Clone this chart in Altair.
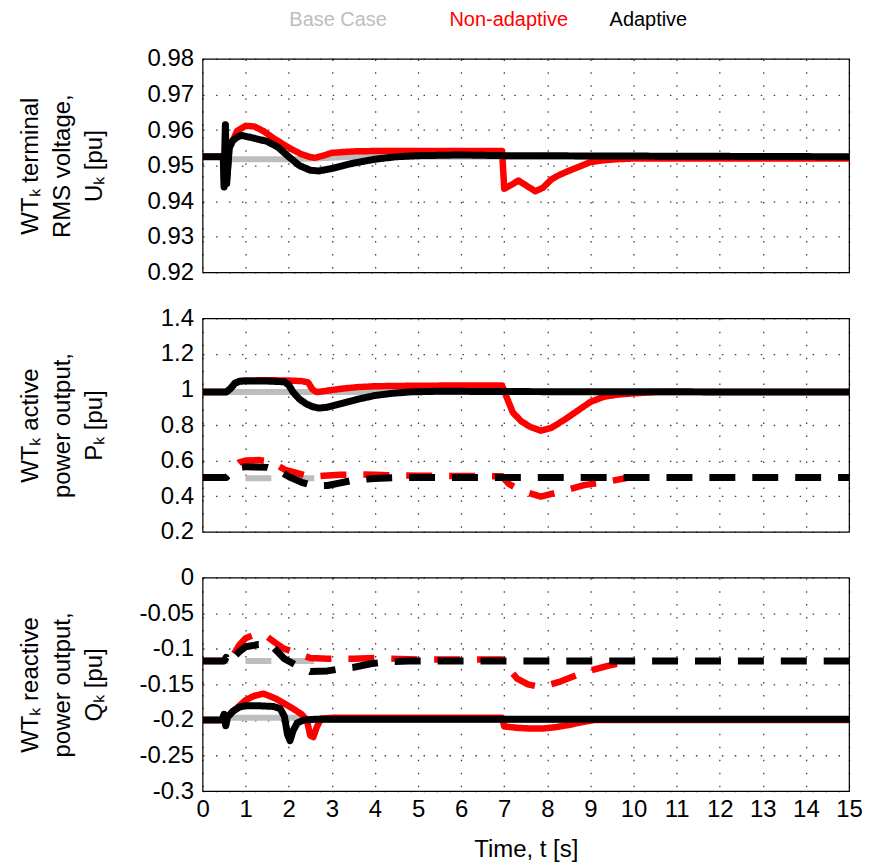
import altair as alt
import pandas as pd

SERIES = ["Base Case", "Non-adaptive", "Adaptive"]
COLORS = ["#bdbdbd", "#ff0000", "#000000"]
WIDTHS = [6, 7, 8]

# ---------------- Panel 1: terminal RMS voltage U_k [pu] ----------------
u_base_t = [0, 0.48, 0.50, 0.53, 0.56, 0.62, 1.0, 2.0, 2.6, 3.5, 15]
u_base_v = [0.9525, 0.9525, 0.944, 0.9615, 0.945, 0.9518, 0.9518, 0.9518, 0.952, 0.9525, 0.9525]

u_non_t = [0, 0.48, 0.50, 0.53, 0.56, 0.62, 0.7, 0.8, 1.0, 1.2, 1.4, 1.65, 1.9, 2.1, 2.3, 2.5, 2.6,
           2.8, 3.0, 3.5, 4.0, 5.0, 6.0, 6.95, 7.0, 7.15, 7.33, 7.5, 7.72, 7.9, 8.1, 8.3, 8.55,
           8.8, 9.0, 9.3, 9.6, 10.0, 15]
u_non_v = [0.9525, 0.9525, 0.944, 0.9615, 0.945, 0.955, 0.957, 0.9597, 0.9612, 0.961, 0.9598,
           0.9577, 0.9558, 0.9544, 0.9532, 0.9524, 0.9522, 0.9528, 0.9536, 0.954, 0.9541, 0.9541,
           0.9541, 0.9541, 0.9435, 0.9445, 0.9458, 0.9445, 0.9428, 0.9438, 0.9462, 0.9475, 0.9488,
           0.9500, 0.951, 0.9515, 0.9518, 0.952, 0.952]

u_ada_t = [0, 0.48, 0.50, 0.53, 0.56, 0.62, 0.7, 0.8, 0.9, 1.2, 1.5, 1.75, 2.0, 2.25, 2.5, 2.7,
           3.0, 3.5, 4.0, 4.5, 5.0, 6.0, 7.0, 15]
u_ada_v = [0.9525, 0.9525, 0.944, 0.9615, 0.945, 0.955, 0.957, 0.958, 0.9585, 0.9577, 0.9568,
           0.9552, 0.9525, 0.9500, 0.9487, 0.9485, 0.9492, 0.9507, 0.9518, 0.9525, 0.9528, 0.953,
           0.9528, 0.9525]

# ---------------- Panel 2: active power output P_k [pu] ----------------
p_base_t = [0, 15]
p_base_v = [0.985, 0.985]
p_base_d_t = [0, 0.55, 0.7, 2.6]
p_base_d_v = [0.505, 0.505, 0.501, 0.501]

p_non_t = [0, 0.55, 0.65, 0.75, 0.85, 1.0, 1.5, 2.0, 2.3, 2.45, 2.55, 2.65, 2.8, 3.25, 3.6, 4.0,
           5.0, 6.0, 6.95, 7.05, 7.2, 7.4, 7.6, 7.85, 8.1, 8.4, 8.7, 9.0, 9.3, 9.6, 10.0, 10.5, 15]
p_non_v = [0.985, 0.985, 1.005, 1.035, 1.047, 1.05, 1.052, 1.05, 1.047, 1.04, 1.0, 0.985, 0.99,
           1.005, 1.013, 1.018, 1.021, 1.022, 1.022, 0.96, 0.87, 0.82, 0.79, 0.768, 0.785, 0.83,
           0.88, 0.93, 0.958, 0.97, 0.978, 0.985, 0.985]
p_non_d_t = [0, 0.55, 0.7, 0.85, 1.0, 1.3, 1.6, 1.9, 2.2, 2.5, 2.8, 3.2, 3.6, 4.0, 5.0, 6.95,
             7.1, 7.4, 7.85, 8.4, 8.85, 9.4, 9.9]
p_non_d_v = [0.505, 0.505, 0.56, 0.59, 0.6, 0.603, 0.595, 0.55, 0.53, 0.51, 0.515, 0.52, 0.522,
             0.52, 0.515, 0.512, 0.47, 0.43, 0.398, 0.432, 0.462, 0.482, 0.505]

p_ada_t = [0, 0.55, 0.65, 0.75, 0.85, 1.0, 1.5, 1.9, 2.0, 2.1, 2.25, 2.4, 2.55, 2.7, 2.9, 3.25,
           3.6, 4.0, 4.4, 4.8, 5.5, 7.0, 15]
p_ada_v = [0.985, 0.985, 1.005, 1.035, 1.045, 1.048, 1.047, 1.043, 1.025, 0.985, 0.945, 0.92,
           0.903, 0.895, 0.9, 0.922, 0.945, 0.966, 0.978, 0.986, 0.99, 0.988, 0.985]
p_ada_d_t = [0, 0.55, 0.7, 0.85, 1.0, 1.5, 1.8, 2.0, 2.3, 2.6, 2.9, 3.2, 3.5, 4.0, 4.5, 15]
p_ada_d_v = [0.505, 0.505, 0.54, 0.56, 0.566, 0.562, 0.54, 0.51, 0.478, 0.458, 0.46, 0.475,
             0.49, 0.5, 0.505, 0.505]

# ---------------- Panel 3: reactive power output Q_k [pu] ----------------
q_base_t = [0, 0.55, 0.6, 2.3, 2.5, 15]
q_base_v = [-0.2, -0.2, -0.197, -0.197, -0.2, -0.2]
q_base_d_t = [0, 2.6]
q_base_d_v = [-0.117, -0.117]

q_non_t = [0, 0.45, 0.5, 0.54, 0.58, 0.63, 0.7, 0.8, 1.0, 1.2, 1.42, 1.7, 1.9, 2.1, 2.3, 2.42,
           2.5, 2.57, 2.65, 2.75, 3.0, 4.0, 6.95, 7.0, 7.3, 7.6, 7.9, 8.2, 8.5, 8.8, 9.1, 15]
q_non_v = [-0.2, -0.2, -0.192, -0.208, -0.195, -0.193, -0.188, -0.183, -0.172, -0.166, -0.163,
           -0.17, -0.177, -0.184, -0.192, -0.2, -0.222, -0.224, -0.21, -0.198, -0.197, -0.197,
           -0.197, -0.209, -0.211, -0.212, -0.212, -0.21, -0.207, -0.203, -0.2, -0.2]
q_non_d_t = [0, 0.5, 0.55, 0.6, 0.7, 0.85, 1.0, 1.25, 1.5, 1.7, 1.9, 2.2, 2.5, 2.9, 3.5, 4.0,
             5.0, 6.95, 7.1, 7.3, 7.55, 7.85, 8.3, 8.85, 9.4, 9.9]
q_non_d_v = [-0.117, -0.117, -0.112, -0.12, -0.11, -0.095, -0.085, -0.079, -0.083, -0.092,
             -0.1, -0.106, -0.113, -0.114, -0.114, -0.113, -0.115, -0.115, -0.128, -0.142,
             -0.15, -0.154, -0.146, -0.133, -0.124, -0.117]

q_ada_t = [0, 0.45, 0.5, 0.54, 0.58, 0.63, 0.7, 0.85, 1.0, 1.3, 1.65, 1.8, 1.9, 1.97, 2.03,
           2.1, 2.2, 2.35, 2.6, 15]
q_ada_v = [-0.2, -0.2, -0.192, -0.208, -0.195, -0.193, -0.188, -0.182, -0.18, -0.18, -0.181,
           -0.184, -0.195, -0.22, -0.229, -0.215, -0.204, -0.2, -0.199, -0.199]
q_ada_d_t = [0, 0.5, 0.55, 0.6, 0.7, 0.85, 1.0, 1.3, 1.6, 1.9, 2.2, 2.5, 2.9, 3.2, 3.5, 3.9,
             4.3, 4.8, 15]
q_ada_d_v = [-0.117, -0.117, -0.112, -0.12, -0.113, -0.104, -0.097, -0.094, -0.095, -0.114,
             -0.124, -0.132, -0.131, -0.128, -0.126, -0.121, -0.118, -0.117, -0.117]

U_TICKS = [0.92, 0.93, 0.94, 0.95, 0.96, 0.97, 0.98]
P_TICKS = [0.2, 0.4, 0.6, 0.8, 1.0, 1.2, 1.4]
Q_TICKS = [-0.3, -0.25, -0.2, -0.15, -0.1, -0.05, 0.0]
T_TICKS = list(range(16))

curves = [
    ("U", "Base Case", "solid", u_base_t, u_base_v),
    ("U", "Non-adaptive", "solid", u_non_t, u_non_v),
    ("U", "Adaptive", "solid", u_ada_t, u_ada_v),
    ("P", "Base Case", "solid", p_base_t, p_base_v),
    ("P", "Base Case", "dashed", p_base_d_t, p_base_d_v),
    ("P", "Non-adaptive", "solid", p_non_t, p_non_v),
    ("P", "Non-adaptive", "dashed", p_non_d_t, p_non_d_v),
    ("P", "Adaptive", "solid", p_ada_t, p_ada_v),
    ("P", "Adaptive", "dashed", p_ada_d_t, p_ada_d_v),
    ("Q", "Base Case", "solid", q_base_t, q_base_v),
    ("Q", "Base Case", "dashed", q_base_d_t, q_base_d_v),
    ("Q", "Non-adaptive", "solid", q_non_t, q_non_v),
    ("Q", "Non-adaptive", "dashed", q_non_d_t, q_non_d_v),
    ("Q", "Adaptive", "solid", q_ada_t, q_ada_v),
    ("Q", "Adaptive", "dashed", q_ada_d_t, q_ada_d_v),
]

rows = []
for var, ser, style, ts, vs in curves:
    for t, v in zip(ts, vs):
        rows.append({"var": var, "series": ser, "style": style,
                     "curve": ser + "-" + style, "t": t, "value": v})
df = pd.DataFrame(rows)
legend_df = pd.DataFrame({"name": SERIES})

FONT = "Liberation Sans"
PLOT_W = 648
color_scale = alt.Scale(domain=SERIES, range=COLORS)


def panel(var, domain, ticks, title, label_expr, bottom):
    if bottom:
        x_axis = alt.Axis(values=T_TICKS, title="Time, t [s]", labelPadding=6,
                          titlePadding=16, labelFlush=False)
    else:
        x_axis = alt.Axis(values=T_TICKS, labels=False, title=None)
    y_axis = alt.Axis(values=ticks, title=title, labelExpr=label_expr, titleX=-160,
                      titleLineHeight=32, labelPadding=9)
    return (
        alt.Chart(df[df["var"] == var])
        .mark_line(strokeCap="butt", strokeJoin="round")
        .encode(
            x=alt.X("t:Q", scale=alt.Scale(domain=[0, 15], nice=False), axis=x_axis),
            y=alt.Y("value:Q", scale=alt.Scale(domain=domain, nice=False, zero=False), axis=y_axis),
            color=alt.Color("series:N", scale=color_scale, legend=None),
            strokeWidth=alt.StrokeWidth("series:N", scale=alt.Scale(domain=SERIES, range=WIDTHS), legend=None),
            strokeDash=alt.StrokeDash("style:N", scale=alt.Scale(domain=["solid", "dashed"], range=[[1, 0], [26, 17]]), legend=None),
            detail="curve:N",
        )
        .properties(width=PLOT_W, height=214)
    )


p1 = panel("U", [0.92, 0.98], U_TICKS, ["WTₖ terminal", "RMS voltage,", "Uₖ [pu]"],
           "format(datum.value, '.2f')", False)
p2 = panel("P", [0.2, 1.4], P_TICKS, ["WTₖ active", "power output,", "Pₖ [pu]"],
           "format(datum.value, '')", False)
p3 = panel("Q", [-0.3, 0.0], Q_TICKS, ["WTₖ reactive", "power output,", "Qₖ [pu]"],
           "datum.value == 0 ? '0' : '-' + format(abs(datum.value), '')", True)

legend_text = (
    alt.Chart(legend_df)
    .mark_text(align="left", baseline="middle", font=FONT, fontSize=20)
    .encode(
        x=alt.X("name:N", sort=SERIES, axis=None,
                scale=alt.Scale(type="point", domain=SERIES, range=[87, 408], padding=0)),
        y=alt.value(-39),
        text="name:N",
        color=alt.Color("name:N", scale=color_scale, legend=None),
    )
)

p1_full = alt.layer(p1, legend_text).resolve_scale(x="independent")

chart = (
    alt.vconcat(p1_full, p2, p3, spacing=20)
    .properties(padding={"left": 10, "top": 0, "right": 0, "bottom": 0}, background="#ffffff")
    .configure_view(stroke="#000000", strokeWidth=1.2)
    .configure_axis(
        labelFont=FONT, labelFontSize=24, labelColor="#000000",
        titleFont=FONT, titleFontSize=24, titleFontWeight="normal", titleColor="#000000",
        domain=False, ticks=False,
        grid=True, gridColor="#000000", gridDash=[1.5, 11.5], gridWidth=1.3, gridOpacity=0.75,
    )
)

chart.save("out.html", embed_options={"renderer": "svg", "actions": False})
